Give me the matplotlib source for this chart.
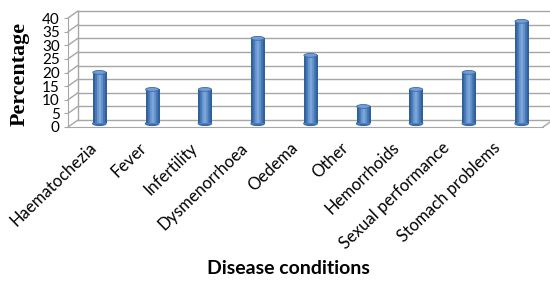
import numpy as np
import matplotlib
matplotlib.use("Agg")
import matplotlib.pyplot as plt
from matplotlib.transforms import offset_copy, ScaledTranslation
from matplotlib.patches import Ellipse

categories = ["Haematochezia", "Fever", "Infertility", "Dysmenorrhoea", "Oedema",
              "Other", "Hemorrhoids", "Sexual performance", "Stomach problems"]
values = [18.75, 12.5, 12.5, 31.25, 25.0, 6.25, 12.5, 18.75, 37.5]
yticks = [0, 5, 10, 15, 20, 25, 30, 35, 40]

fig = plt.figure(figsize=(5.5, 2.82), dpi=100)
ax = fig.add_axes([68 / 550, 1 - 127 / 282, 475 / 550, 109 / 282])
x = np.arange(len(categories))
n = len(categories)

grid_c = "#a6a6a6"
back = offset_copy(ax.transData, fig=fig, x=10, y=7, units="dots")
mid = offset_copy(ax.transData, fig=fig, x=5, y=3.5, units="dots")

# back wall + left wall
for t in yticks:
    ax.plot([-0.5, n - 0.5], [t, t], color=grid_c, lw=1,
            transform=back, clip_on=False, zorder=1)
    ax.annotate("", xy=(-0.5, t), xycoords=back, xytext=(-0.5, t),
                textcoords="data",
                arrowprops=dict(arrowstyle="-", color=grid_c, lw=1,
                                shrinkA=0, shrinkB=0))
ax.plot([-0.5, -0.5], [0, 40], color=grid_c, lw=1, transform=back, clip_on=False)
ax.annotate("", xy=(n - 0.5, 0), xycoords=back,
            xytext=(n - 0.5, 0), textcoords="data",
            arrowprops=dict(arrowstyle="-", color=grid_c, lw=1, shrinkA=0, shrinkB=0))

# cylinder bars
w = 0.25
grad = np.array([[0.0, 0.35, 0.7, 0.9, 0.65, 0.3, 0.0]])
cmap = matplotlib.colors.LinearSegmentedColormap.from_list(
    "cyl", ["#30609b", "#4f81bd", "#80a9dc"])
ell_h = 1.4
for xi, v in zip(x, values):
    bars = ax.bar(xi, v, width=w, color="#4f81bd", transform=mid, zorder=3,
                  clip_on=False, linewidth=0)
    im = ax.imshow(grad, cmap=cmap, aspect="auto", transform=mid, zorder=3,
                   extent=(xi - w / 2, xi + w / 2, 0, v))
    im.set_clip_path(bars[0])
    ax.add_patch(Ellipse((xi, 0), w, ell_h, transform=mid, color="#3a6ba8",
                         zorder=2.9, clip_on=False))
    ax.add_patch(Ellipse((xi, v), w, ell_h, transform=mid, facecolor="#729ed6",
                         edgecolor="#3a6ba8", lw=0.6, zorder=4, clip_on=False))
ax.set_xlim(-0.5, n - 0.5)
ax.set_ylim(0, 40)

for s in ["top", "right"]:
    ax.spines[s].set_visible(False)
ax.spines["left"].set_color(grid_c)
ax.spines["bottom"].set_color(grid_c)

ax.set_yticks(yticks)
ax.set_yticklabels([str(t) for t in yticks], fontsize=11, family="Lato")
ax.tick_params(axis="y", length=3, color=grid_c, pad=3)
ax.set_xticks(x)
ax.set_xticklabels(categories, rotation=44, ha="right", rotation_mode="anchor",
                   fontsize=12, family="Lato")
ax.tick_params(axis="x", length=0, pad=9)
for i, lab in enumerate(ax.get_xticklabels()):
    shift = (6 + 2.3 * i) / 100
    lab.set_transform(lab.get_transform() + ScaledTranslation(-shift, 0, fig.dpi_scale_trans))

fig.text(0.035, 1 - 74 / 282, "Percentage", rotation=90, ha="center", va="center",
         fontsize=15.8, fontweight="bold", family="Liberation Serif")
fig.text(0.525, 1 - 269 / 282, "Disease conditions", ha="center", va="center",
         fontsize=14, fontweight="bold", family="Lato")

fig.savefig("out.png", dpi=100)
